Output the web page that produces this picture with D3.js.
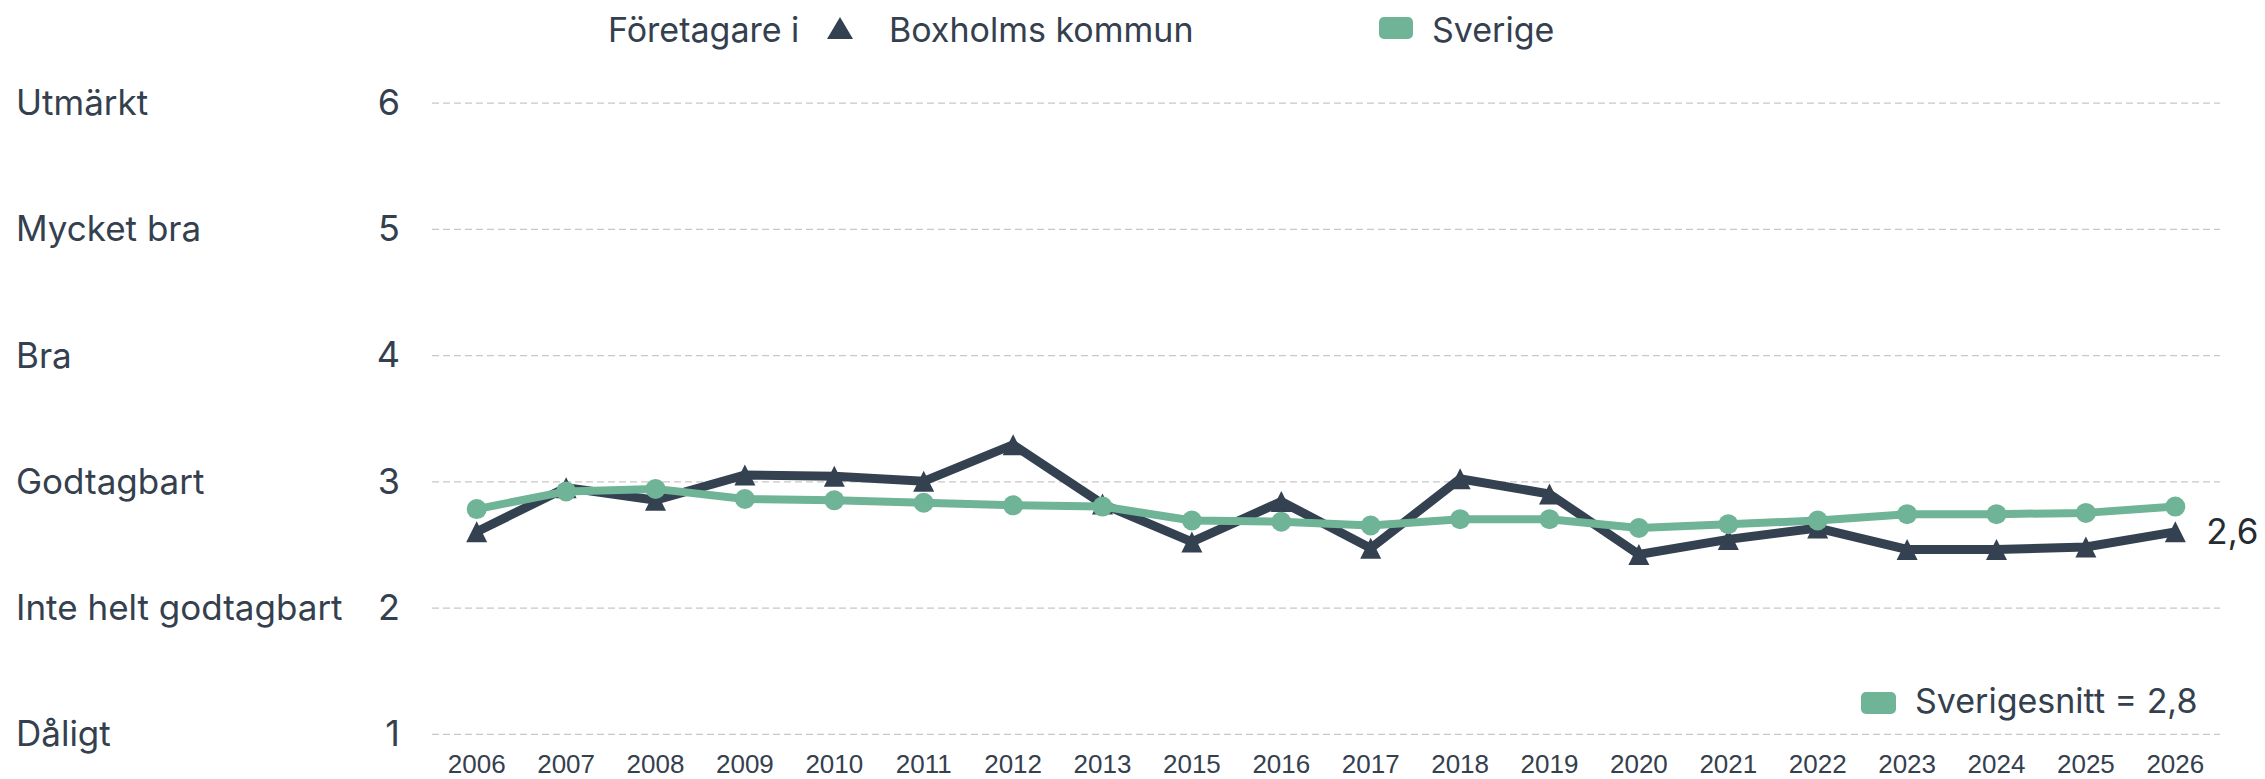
<!DOCTYPE html>
<html><head><meta charset="utf-8">
<script src="https://cdn.jsdelivr.net/npm/d3@7"></script>
<style>
html,body{margin:0;padding:0;background:#fff;}
svg{display:block;}
</style></head>
<body>
<svg id="chart" width="2265" height="779"></svg>
<script>
const years = ["2006","2007","2008","2009","2010","2011","2012","2013","2015","2016","2017","2018","2019","2020","2021","2022","2023","2024","2025","2026"];
const boxholms = [2.60,2.95,2.85,3.05,3.04,3.00,3.29,2.82,2.52,2.84,2.47,3.02,2.90,2.42,2.54,2.63,2.46,2.46,2.48,2.60];
const sverige = [2.78,2.92,2.94,2.86,2.85,2.83,2.81,2.80,2.69,2.68,2.65,2.70,2.70,2.63,2.66,2.69,2.74,2.74,2.75,2.80];
const yTicks = [1,2,3,4,5,6];
const yLabels = ["Dåligt","Inte helt godtagbart","Godtagbart","Bra","Mycket bra","Utmärkt"];
const legendPrefix = "Företagare i";
const seriesNames = ["Boxholms kommun","Sverige"];
const avgLabel = "Sverigesnitt = 2,8";
const lastLabel = "2,6";

const dark = "#344150", green = "#6fb497", textCol = "#34404e";
const font = "Inter, 'Noto Sans', sans-serif";
const svg = d3.select("#chart");
const L = 432, R = 2220, T = 102.6, B = 733.8;

const x = d3.scaleBand().domain(years).range([L, R]).paddingInner(0).paddingOuter(0);
const y = d3.scaleLinear().domain([1, 6]).range([B, T]);
const cx = d => x(d) + x.bandwidth() / 2;

// y axis + grid
const ya = svg.append("g").attr("transform", `translate(${L},0)`)
  .call(d3.axisLeft(y).tickValues(yTicks).tickSize(-(R - L)).tickPadding(32).tickFormat(d3.format("d")));
ya.select(".domain").remove();
ya.selectAll(".tick line").attr("stroke", "#c8c8c8").attr("stroke-width", 1.2).attr("stroke-dasharray", "7,4");
ya.selectAll(".tick text").attr("font-family", font).attr("font-size", 36).attr("fill", textCol).attr("dy", "0.33em");

// category labels
svg.append("g").selectAll("text").data(yTicks).join("text")
  .attr("x", 16).attr("y", d => y(d)).attr("dy", "0.36em")
  .attr("font-family", font).attr("font-size", 35).attr("fill", textCol)
  .text((d, i) => yLabels[i]);

// x axis
const xa = svg.append("g").attr("transform", `translate(0,${B})`)
  .call(d3.axisBottom(x).tickSize(0).tickPadding(21));
xa.select(".domain").remove();
xa.selectAll(".tick text").attr("font-family", "'Liberation Sans', Arial, sans-serif").attr("font-size", 26).attr("fill", textCol);

// triangle marker centred on point
const triPath = (w, h) => `M0,${-h / 2}L${w / 2},${h / 2}L${-w / 2},${h / 2}Z`;

// lines
const line = d3.line().x((d, i) => cx(years[i])).y(d => y(d));
svg.append("path").datum(boxholms).attr("d", line).attr("fill", "none").attr("stroke", dark).attr("stroke-width", 9).attr("stroke-linejoin", "miter");
svg.append("g").selectAll("path").data(boxholms).join("path")
  .attr("transform", (d, i) => `translate(${cx(years[i])},${y(d)})`)
  .attr("d", triPath(21, 21)).attr("fill", dark);

svg.append("path").datum(sverige).attr("d", line).attr("fill", "none").attr("stroke", green).attr("stroke-width", 8).attr("stroke-linejoin", "round");
svg.append("g").selectAll("circle").data(sverige).join("circle")
  .attr("cx", (d, i) => cx(years[i])).attr("cy", d => y(d)).attr("r", 10).attr("fill", green);

// end label
svg.append("text").attr("x", cx(years[years.length - 1]) + 31).attr("y", y(boxholms[boxholms.length - 1]))
  .attr("dy", "0.36em").attr("font-family", font).attr("font-size", 35).attr("fill", "#262b31").text(lastLabel);

// top legend
const lg = svg.append("g");
lg.append("text").attr("x", 608).attr("y", 42).attr("font-family", font).attr("font-size", 34).attr("fill", textCol).text(legendPrefix);
lg.append("path").attr("d", triPath(26, 22)).attr("transform", "translate(840,28)").attr("fill", dark);
lg.append("text").attr("x", 889).attr("y", 42).attr("font-family", font).attr("font-size", 34).attr("fill", textCol).text(seriesNames[0]);
lg.append("rect").attr("x", 1379).attr("y", 17).attr("width", 34).attr("height", 22).attr("rx", 5).attr("fill", green);
lg.append("text").attr("x", 1432).attr("y", 42).attr("font-family", font).attr("font-size", 34).attr("fill", textCol).text(seriesNames[1]);

// bottom-right legend
svg.append("rect").attr("x", 1861).attr("y", 692).attr("width", 35).attr("height", 22).attr("rx", 5).attr("fill", green);
svg.append("text").attr("x", 1915).attr("y", 713).attr("font-family", font).attr("font-size", 34).attr("fill", textCol).text(avgLabel);
</script>
</body></html>
